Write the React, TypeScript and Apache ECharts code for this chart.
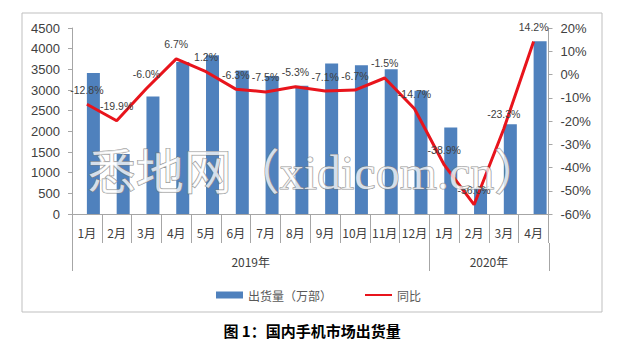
import React, { useEffect, useRef } from "react";
import * as echarts from "echarts";

const months = ["1月", "2月", "3月", "4月", "5月", "6月", "7月", "8月", "9月", "10月", "11月", "12月", "1月", "2月", "3月", "4月"];
const shipments = [3410, 1450, 2840, 3680, 3840, 3470, 3340, 3100, 3640, 3600, 3500, 2980, 2090, 630, 2170, 4180];
const yoy = [-12.8, -19.9, -6.0, 6.7, 1.2, -6.3, -7.5, -5.3, -7.1, -6.7, -1.5, -14.7, -38.9, -56.0, -23.3, 14.2];
const years = ["2019年", "2020年"];
const yearSpans = [12, 4];
const seriesNames = ["出货量（万部）", "同比"];
const caption = "图 1：国内手机市场出货量";
const watermark = "悉地网（xidicom.cn）";

export default function App() {
  const ref = useRef<HTMLDivElement>(null);
  useEffect(() => {
    if (!ref.current) return;
    const chart = echarts.init(ref.current, null, { renderer: "svg" });
    const bounds: number[] = [0];
    const centers: number[] = [];
    yearSpans.forEach((s, i) => {
      const start = bounds[i];
      bounds.push(start + s);
      centers.push(start + s / 2);
    });
    const cjk = "'Noto Sans CJK SC', sans-serif";
    const num = "'Liberation Sans', Arial, sans-serif";
    const axisColor = "#a6a6a6";
    const monthTickLen = 29;
    const yearTickLen = 28;
    chart.setOption({
      animation: false,
      backgroundColor: "#ffffff",
      grid: { left: 72, right: 89.5, top: 28, bottom: 147, containLabel: false },
      legend: {
        data: [
          { name: seriesNames[0], icon: "rect" },
          { name: seriesNames[1], itemStyle: { opacity: 0 } },
        ],
        left: 211,
        top: 284,
        itemWidth: 27,
        itemHeight: 7,
        itemGap: 32,
        textStyle: { fontFamily: cjk, fontSize: 12, color: "#595959" },
      },
      xAxis: [
        {
          type: "category",
          data: months,
          position: "bottom",
          axisLine: { show: true, lineStyle: { color: axisColor } },
          axisTick: { show: true, length: monthTickLen, interval: 0, lineStyle: { color: axisColor } },
          axisLabel: { interval: 0, margin: 12, fontFamily: cjk, fontSize: 12, color: "#404040" },
        },
        {
          type: "value",
          position: "bottom",
          offset: monthTickLen,
          min: 0,
          max: bounds[bounds.length - 1],
          axisLine: { show: false },
          splitLine: { show: false },
          axisTick: { show: false },
          axisLabel: {
            show: true,
            margin: 12,
            customValues: centers,
            formatter: (v: number) => {
              const i = centers.indexOf(v);
              return i >= 0 ? years[i] : "";
            },
            fontFamily: cjk,
            fontSize: 12,
            color: "#404040",
          },
        },
      ],
      yAxis: [
        {
          type: "value",
          min: 0,
          max: 4500,
          interval: 500,
          splitLine: { show: false },
          axisLine: { show: true, lineStyle: { color: axisColor } },
          axisTick: { show: true, length: 4, lineStyle: { color: axisColor } },
          axisLabel: {
            margin: 12,
            formatter: (v: number) => String(v),
            fontFamily: num,
            fontSize: 13,
            color: "#404040",
          },
        },
        {
          type: "value",
          min: -60,
          max: 20,
          interval: 10,
          position: "right",
          splitLine: { show: false },
          axisLine: { show: true, lineStyle: { color: axisColor } },
          axisTick: { show: true, length: 4, lineStyle: { color: axisColor } },
          axisLabel: {
            margin: 12,
            formatter: (v: number) => v + "%",
            fontFamily: num,
            fontSize: 13,
            color: "#404040",
          },
        },
      ],
      series: [
        {
          name: "_spacer",
          type: "bar",
          data: [],
          barWidth: 13,
          barGap: "0%",
          silent: true,
        },
        {
          name: seriesNames[0],
          type: "bar",
          data: shipments,
          barWidth: 13,
          barGap: "0%",
          itemStyle: { color: "#4f81bd" },
        },
        {
          name: seriesNames[1],
          type: "line",
          yAxisIndex: 1,
          data: yoy,
          symbol: "circle",
          symbolSize: 0.01,
          showSymbol: true,
          z: 5,
          lineStyle: { color: "#e8141c", width: 3 },
          itemStyle: { color: "#e8141c" },
          label: {
            show: true,
            position: "top",
            distance: 9,
            formatter: (p: any) => Number(p.value).toFixed(1) + "%",
            fontFamily: num,
            fontSize: 10.5,
            color: "#404040",
          },
        },
      ],
      graphic: [
        {
          type: "rect",
          shape: { x: 22, y: 13, width: 580, height: 299 },
          style: { fill: "none", stroke: "#bfbfbf", lineWidth: 1 },
          silent: true,
          z: -1,
        },
        {
          type: "text",
          x: 315,
          y: 172,
          z: 100,
          silent: true,
          style: {
            text: watermark,
            fill: "rgba(255,255,255,0.75)",
            stroke: "rgba(120,120,120,0.8)",
            lineWidth: 1.2,
            font: "48px 'Liberation Serif', 'DejaVu Serif', 'Noto Sans CJK SC', serif",
            align: "center",
            verticalAlign: "middle",
          },
        },
        {
          type: "text",
          x: 312,
          y: 330,
          silent: true,
          style: {
            text: caption,
            fill: "#000000",
            font: "bold 15px 'Noto Sans CJK SC', sans-serif",
            align: "center",
            verticalAlign: "middle",
          },
        },
      ],
    });

    // Year separators: positions from the category axis scale
    const c0 = chart.convertToPixel({ xAxisIndex: 0 }, 0) as number;
    const c1 = chart.convertToPixel({ xAxisIndex: 0 }, 1) as number;
    const band = c1 - c0;
    const yBase = chart.convertToPixel({ yAxisIndex: 0 }, 0) as number;
    const sepLines = bounds.map((b) => {
      const x = Math.round(c0 - band / 2 + b * band) + 0.5;
      return {
        type: "line",
        silent: true,
        shape: { x1: x, y1: yBase + monthTickLen, x2: x, y2: yBase + monthTickLen + yearTickLen },
        style: { stroke: axisColor, lineWidth: 1 },
      };
    });
    chart.setOption({
      graphic: [
        {
          type: "rect",
          shape: { x: 22, y: 13, width: 580, height: 299 },
          style: { fill: "none", stroke: "#bfbfbf", lineWidth: 1 },
          silent: true,
          z: -1,
        },
        {
          type: "text",
          x: 315,
          y: 172,
          z: 100,
          silent: true,
          style: {
            text: watermark,
            fill: "rgba(255,255,255,0.75)",
            stroke: "rgba(120,120,120,0.8)",
            lineWidth: 1.2,
            font: "48px 'Liberation Serif', 'DejaVu Serif', 'Noto Sans CJK SC', serif",
            align: "center",
            verticalAlign: "middle",
          },
        },
        {
          type: "text",
          x: 312,
          y: 330,
          silent: true,
          style: {
            text: caption,
            fill: "#000000",
            font: "bold 15px 'Noto Sans CJK SC', sans-serif",
            align: "center",
            verticalAlign: "middle",
          },
        },
        ...sepLines,
      ],
    }, { replaceMerge: ["graphic"] });
    return () => chart.dispose();
  }, []);
  return (
    <div
      ref={ref}
      style={{ position: "fixed", left: 0, top: 0, width: 638, height: 361, background: "#fff" }}
    />
  );
}
